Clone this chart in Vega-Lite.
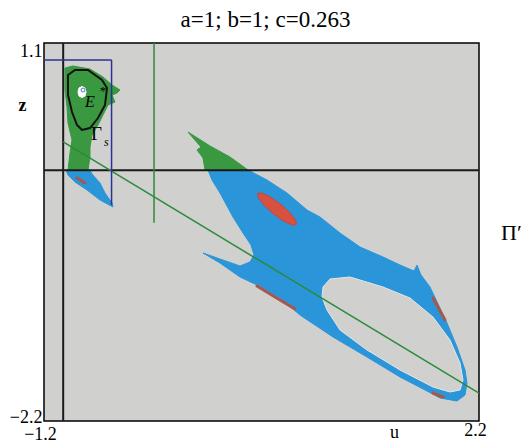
{
  "$schema": "https://vega.github.io/schema/vega-lite/v6.json",
  "width": 435,
  "height": 378,
  "autosize": "none",
  "padding": {"left": 44, "top": 43, "right": 43, "bottom": 23},
  "title": {"text": "a=1; b=1; c=0.263", "font": "Liberation Serif", "fontSize": 23, "fontWeight": "normal", "color": "black", "anchor": "middle", "offset": 10, "dx": 4},
  "config": {
    "view": {"fill": "#d0d0ce", "stroke": "black", "strokeWidth": 1.5},
    "axis": {"domain": false, "ticks": false, "grid": false, "labelFont": "Liberation Serif", "labelFontSize": 18, "labelColor": "black", "titleFont": "Liberation Serif", "titleFontSize": 18, "titleColor": "black", "labelFlush": false, "labelOverlap": false, "labelBound": false}
  },
  "datasets": {
    "poly": [
      {"s":"bm","i":0,"u":0.0818,"z":-0.0087},{"s":"bm","i":1,"u":0.3945,"z":-0.0087},{"s":"bm","i":2,"u":0.5430,"z":-0.0960},{"s":"bm","i":3,"u":0.6993,"z":-0.2095},{"s":"bm","i":4,"u":0.8556,"z":-0.3579},{"s":"bm","i":5,"u":0.9572,"z":-0.4191},{"s":"bm","i":6,"u":1.1136,"z":-0.5587},{"s":"bm","i":7,"u":1.2699,"z":-0.6810},{"s":"bm","i":8,"u":1.4497,"z":-0.7683},{"s":"bm","i":9,"u":1.5825,"z":-0.8381},{"s":"bm","i":10,"u":1.6920,"z":-0.8905},{"s":"bm","i":11,"u":1.7154,"z":-0.8381},{"s":"bm","i":12,"u":1.7467,"z":-0.9254},{"s":"bm","i":13,"u":1.8170,"z":-1.0302},{"s":"bm","i":14,"u":1.9499,"z":-1.3445},{"s":"bm","i":15,"u":2.0280,"z":-1.5540},{"s":"bm","i":16,"u":2.0906,"z":-1.7548},{"s":"bm","i":17,"u":2.1062,"z":-1.8683},{"s":"bm","i":18,"u":2.0906,"z":-1.9730},{"s":"bm","i":19,"u":2.0280,"z":-2.0254},{"s":"bm","i":20,"u":1.8952,"z":-1.9992},{"s":"bm","i":21,"u":1.7936,"z":-1.9381},{"s":"bm","i":22,"u":1.5825,"z":-1.8159},{"s":"bm","i":23,"u":1.3246,"z":-1.6413},{"s":"bm","i":24,"u":1.0589,"z":-1.4667},{"s":"bm","i":25,"u":0.8009,"z":-1.2746},{"s":"bm","i":26,"u":0.6446,"z":-1.1262},{"s":"bm","i":27,"u":0.4648,"z":-1.0127},{"s":"bm","i":28,"u":0.3320,"z":-0.9429},{"s":"bm","i":29,"u":0.1756,"z":-0.8206},{"s":"bm","i":30,"u":0.0428,"z":-0.7333},{"s":"bm","i":31,"u":0.1756,"z":-0.7857},{"s":"bm","i":32,"u":0.3320,"z":-0.8468},{"s":"bm","i":33,"u":0.4101,"z":-0.8119},{"s":"bm","i":34,"u":0.4414,"z":-0.7508},{"s":"bm","i":35,"u":0.4179,"z":-0.6635},{"s":"bm","i":36,"u":0.3554,"z":-0.5587},{"s":"bm","i":37,"u":0.2772,"z":-0.4191},{"s":"bm","i":38,"u":0.1756,"z":-0.2095},{"s":"bm","i":39,"u":0.1131,"z":-0.0960},
      {"s":"bt","i":0,"u":-1.0280,"z":-0.0087},{"s":"bt","i":1,"u":-0.8405,"z":-0.0087},{"s":"bt","i":2,"u":-0.8248,"z":-0.0437},{"s":"bt","i":3,"u":-0.7623,"z":-0.1222},{"s":"bt","i":4,"u":-0.7232,"z":-0.2095},{"s":"bt","i":5,"u":-0.6685,"z":-0.2968},{"s":"bt","i":6,"u":-0.6607,"z":-0.3318},{"s":"bt","i":7,"u":-0.7623,"z":-0.2706},{"s":"bt","i":8,"u":-0.8639,"z":-0.1833},{"s":"bt","i":9,"u":-0.9577,"z":-0.1135},{"s":"bt","i":10,"u":-1.0124,"z":-0.0524},
      {"s":"gm","i":0,"u":-0.0745,"z":0.3230},{"s":"gm","i":1,"u":0.0975,"z":0.2008},{"s":"gm","i":2,"u":0.2538,"z":0.1048},{"s":"gm","i":3,"u":0.3945,"z":-0.0087},{"s":"gm","i":4,"u":0.0584,"z":-0.0087},{"s":"gm","i":5,"u":0.0428,"z":0.0960},{"s":"gm","i":6,"u":-0.0041,"z":0.1659},{"s":"gm","i":7,"u":0.0271,"z":0.1921},{"s":"gm","i":8,"u":-0.0276,"z":0.2619},
      {"s":"ge","i":0,"u":-1.0359,"z":0.8817},{"s":"ge","i":1,"u":-0.9733,"z":0.8992},{"s":"ge","i":2,"u":-0.8405,"z":0.8730},{"s":"ge","i":3,"u":-0.7389,"z":0.8032},{"s":"ge","i":4,"u":-0.6685,"z":0.7333},{"s":"ge","i":5,"u":-0.6060,"z":0.6897},{"s":"ge","i":6,"u":-0.6294,"z":0.6635},{"s":"ge","i":7,"u":-0.6685,"z":0.6460},{"s":"ge","i":8,"u":-0.6451,"z":0.5849},{"s":"ge","i":9,"u":-0.6998,"z":0.5587},{"s":"ge","i":10,"u":-0.7389,"z":0.4714},{"s":"ge","i":11,"u":-0.7779,"z":0.3841},{"s":"ge","i":12,"u":-0.8248,"z":0.2968},{"s":"ge","i":13,"u":-0.8405,"z":0.1921},{"s":"ge","i":14,"u":-0.8405,"z":0.1048},{"s":"ge","i":15,"u":-0.8561,"z":-0.0087},{"s":"ge","i":16,"u":-1.0124,"z":-0.0087},{"s":"ge","i":17,"u":-0.9968,"z":0.1397},{"s":"ge","i":18,"u":-0.9811,"z":0.2532},{"s":"ge","i":19,"u":-1.0124,"z":0.4016},{"s":"ge","i":20,"u":-1.0202,"z":0.5413},{"s":"ge","i":21,"u":-1.0359,"z":0.6897},
      {"s":"wh","i":0,"u":0.9807,"z":-1.0302},{"s":"wh","i":1,"u":1.0354,"z":-0.9603},{"s":"wh","i":2,"u":1.1917,"z":-0.9429},{"s":"wh","i":3,"u":1.4497,"z":-1.0302},{"s":"wh","i":4,"u":1.6607,"z":-1.1262},{"s":"wh","i":5,"u":1.8405,"z":-1.2921},{"s":"wh","i":6,"u":1.9733,"z":-1.4929},{"s":"wh","i":7,"u":2.0515,"z":-1.6937},{"s":"wh","i":8,"u":2.0749,"z":-1.8421},{"s":"wh","i":9,"u":2.0515,"z":-1.9294},{"s":"wh","i":10,"u":1.9733,"z":-1.9468},{"s":"wh","i":11,"u":1.8405,"z":-1.9032},{"s":"wh","i":12,"u":1.5825,"z":-1.7548},{"s":"wh","i":13,"u":1.3246,"z":-1.5802},{"s":"wh","i":14,"u":1.1136,"z":-1.4056},{"s":"wh","i":15,"u":1.0120,"z":-1.2310},{"s":"wh","i":16,"u":0.9729,"z":-1.1175},
      {"s":"wb","i":0,"u":-0.9030,"z":0.7202},{"s":"wb","i":1,"u":-0.8795,"z":0.7071},{"s":"wb","i":2,"u":-0.8717,"z":0.6722},{"s":"wb","i":3,"u":-0.8795,"z":0.6373},{"s":"wb","i":4,"u":-0.9030,"z":0.6242},{"s":"wb","i":5,"u":-0.9265,"z":0.6373},{"s":"wb","i":6,"u":-0.9343,"z":0.6722},{"s":"wb","i":7,"u":-0.9265,"z":0.7071},
      {"s":"rd","i":0,"u":0.7728,"z":-0.4863},{"s":"rd","i":1,"u":0.7376,"z":-0.4889},{"s":"rd","i":2,"u":0.6712,"z":-0.4540},{"s":"rd","i":3,"u":0.5914,"z":-0.3902},{"s":"rd","i":4,"u":0.5195,"z":-0.3169},{"s":"rd","i":5,"u":0.4750,"z":-0.2514},{"s":"rd","i":6,"u":0.4695,"z":-0.2122},{"s":"rd","i":7,"u":0.5047,"z":-0.2104},{"s":"rd","i":8,"u":0.5711,"z":-0.2453},{"s":"rd","i":9,"u":0.6509,"z":-0.3082},{"s":"rd","i":10,"u":0.7228,"z":-0.3824},{"s":"rd","i":11,"u":0.7673,"z":-0.4479}
    ],
    "strips": [
      {"s":"r1","i":0,"u":0.4648,"z":-1.0214},{"s":"r1","i":1,"u":0.6055,"z":-1.1175},{"s":"r1","i":2,"u":0.7618,"z":-1.2222},
      {"s":"r2","i":0,"u":1.8405,"z":-1.1262},{"s":"r2","i":1,"u":1.9343,"z":-1.3183},
      {"s":"r3","i":0,"u":1.8405,"z":-1.9556},{"s":"r3","i":1,"u":1.9186,"z":-1.9905},
      {"s":"r4","i":0,"u":-0.9421,"z":-0.0786},{"s":"r4","i":1,"u":-0.8795,"z":-0.1222}
    ],
    "gamma": [
      {"i":0,"u":-1.0124,"z":0.8206},{"i":1,"u":-0.9577,"z":0.8643},{"i":2,"u":-0.8561,"z":0.8643},{"i":3,"u":-0.7467,"z":0.7770},{"i":4,"u":-0.7076,"z":0.7071},{"i":5,"u":-0.7232,"z":0.5587},{"i":6,"u":-0.7779,"z":0.4452},{"i":7,"u":-0.8405,"z":0.3579},{"i":8,"u":-0.9030,"z":0.3405},{"i":9,"u":-0.9421,"z":0.3841},{"i":10,"u":-0.9811,"z":0.4976},{"i":11,"u":-1.0124,"z":0.6460},{"i":12,"u":-1.0124,"z":0.7595}
    ],
    "lines": [
      {"k":"black","u":-1.05,"z":1.1,"u2":-1.05,"z2":-2.2},
      {"k":"black","u":-1.2,"z":-0.01,"u2":2.2,"z2":-0.01},
      {"k":"green","u":-0.34,"z":1.1,"u2":-0.34,"z2":-0.47},
      {"k":"green","u":-1.05,"z":0.236,"u2":2.2,"z2":-1.957},
      {"k":"box","u":-1.2,"z":0.952,"u2":-0.672,"z2":0.952},
      {"k":"box","u":-0.672,"z":0.952,"u2":-0.672,"z2":-0.314}
    ]
  },
  "encoding": {
    "x": {"field": "u", "type": "quantitative", "scale": {"domain": [-1.2, 2.2], "nice": false, "zero": false},
      "axis": {"values": [-1.2, 2.2], "format": ".1f", "title": "u", "titleX": 350, "titleY": 11, "titleBaseline": "middle", "titleAlign": "center", "titleFontWeight": "normal", "labelOffset": -4,
        "labelPadding": {"condition": {"test": "datum.value < 0", "value": 4}, "value": 0}}},
    "y": {"field": "z", "type": "quantitative", "scale": {"domain": [-2.2, 1.1], "nice": false, "zero": false},
      "axis": {"values": [-2.2, 1.1], "format": ".1f", "title": "z", "titleAngle": 0, "titleX": -22, "titleY": 62, "titleBaseline": "middle", "titleAlign": "center", "titleFontWeight": "bold", "labelPadding": 2, "labelBaseline": "middle",
        "labelOffset": {"condition": {"test": "datum.value > 0", "value": 8}, "value": -4}}}
  },
  "layer": [
    {"data": {"name": "poly"}, "transform": [{"filter": "datum.s === 'bm' || datum.s === 'bt'"}],
     "mark": {"type": "line", "interpolate": "linear-closed", "fill": "#2b95d9", "color": "#2b95d9", "strokeWidth": 1},
     "encoding": {"detail": {"field": "s"}, "order": {"field": "i", "type": "quantitative"}}},
    {"data": {"name": "poly"}, "transform": [{"filter": "datum.s === 'gm' || datum.s === 'ge'"}],
     "mark": {"type": "line", "interpolate": "linear-closed", "fill": "#3a9840", "color": "#3a9840", "strokeWidth": 1},
     "encoding": {"detail": {"field": "s"}, "order": {"field": "i", "type": "quantitative"}}},
    {"data": {"name": "poly"}, "transform": [{"filter": "datum.s === 'wh'"}],
     "mark": {"type": "line", "interpolate": "linear-closed", "fill": "#d0d0ce", "color": "#e6e6e4", "strokeWidth": 1},
     "encoding": {"detail": {"field": "s"}, "order": {"field": "i", "type": "quantitative"}}},
    {"data": {"name": "poly"}, "transform": [{"filter": "datum.s === 'wb'"}],
     "mark": {"type": "line", "interpolate": "linear-closed", "fill": "#ffffff", "color": "#ffffff", "strokeWidth": 1},
     "encoding": {"detail": {"field": "s"}, "order": {"field": "i", "type": "quantitative"}}},
    {"data": {"name": "poly"}, "transform": [{"filter": "datum.s === 'rd'"}],
     "mark": {"type": "line", "interpolate": "linear-closed", "fill": "#d8503f", "color": "#c04a3a", "strokeWidth": 1},
     "encoding": {"detail": {"field": "s"}, "order": {"field": "i", "type": "quantitative"}}},
    {"data": {"name": "strips"},
     "mark": {"type": "line", "color": "#a8574a", "strokeWidth": 3, "strokeCap": "round"},
     "encoding": {"detail": {"field": "s"}, "order": {"field": "i", "type": "quantitative"}}},
    {"data": {"name": "gamma"},
     "mark": {"type": "line", "interpolate": "linear-closed", "color": "#111111", "strokeWidth": 2},
     "encoding": {"order": {"field": "i", "type": "quantitative"}}},
    {"data": {"values": [{"u": -0.8952, "z": 0.6897}]},
     "mark": {"type": "point", "shape": "circle", "filled": false, "color": "#4060c8", "size": 14, "strokeWidth": 1.2}},
    {"data": {"name": "lines"}, "transform": [{"filter": "datum.k === 'black'"}],
     "mark": {"type": "rule", "color": "#1a1a1a", "strokeWidth": 2},
     "encoding": {"x2": {"field": "u2"}, "y2": {"field": "z2"}}},
    {"data": {"name": "lines"}, "transform": [{"filter": "datum.k === 'green'"}],
     "mark": {"type": "rule", "color": "#2c8a3a", "strokeWidth": 1.5},
     "encoding": {"x2": {"field": "u2"}, "y2": {"field": "z2"}}},
    {"data": {"name": "lines"}, "transform": [{"filter": "datum.k === 'box'"}],
     "mark": {"type": "rule", "color": "#2a3296", "strokeWidth": 1.5},
     "encoding": {"x2": {"field": "u2"}, "y2": {"field": "z2"}}},
    {"data": {"values": [{"t": "E", "u": -0.8405, "z": 0.5413}]},
     "mark": {"type": "text", "font": "Liberation Serif", "fontSize": 16, "fontStyle": "italic", "color": "black", "align": "center", "baseline": "alphabetic"},
     "encoding": {"text": {"field": "t"}}},
    {"data": {"values": [{"t": "*", "u": -0.7389, "z": 0.6460}]},
     "mark": {"type": "text", "font": "Liberation Serif", "fontSize": 13, "color": "black", "align": "center", "baseline": "alphabetic"},
     "encoding": {"text": {"field": "t"}}},
    {"data": {"values": [{"t": "Γ", "u": -0.7897, "z": 0.2532}]},
     "mark": {"type": "text", "font": "Liberation Serif", "fontSize": 19, "color": "black", "align": "center", "baseline": "alphabetic"},
     "encoding": {"text": {"field": "t"}}},
    {"data": {"values": [{"t": "s", "u": -0.7310, "z": 0.2008}]},
     "mark": {"type": "text", "font": "Liberation Serif", "fontSize": 12, "fontStyle": "italic", "color": "black", "align": "left", "baseline": "alphabetic"},
     "encoding": {"text": {"field": "t"}}},
    {"data": {"values": [{"t": "Π′", "u": 2.372, "z": -0.620}]},
     "mark": {"type": "text", "font": "Liberation Serif", "fontSize": 22, "color": "black", "align": "left", "baseline": "alphabetic"},
     "encoding": {"text": {"field": "t"}}}
  ]
}
